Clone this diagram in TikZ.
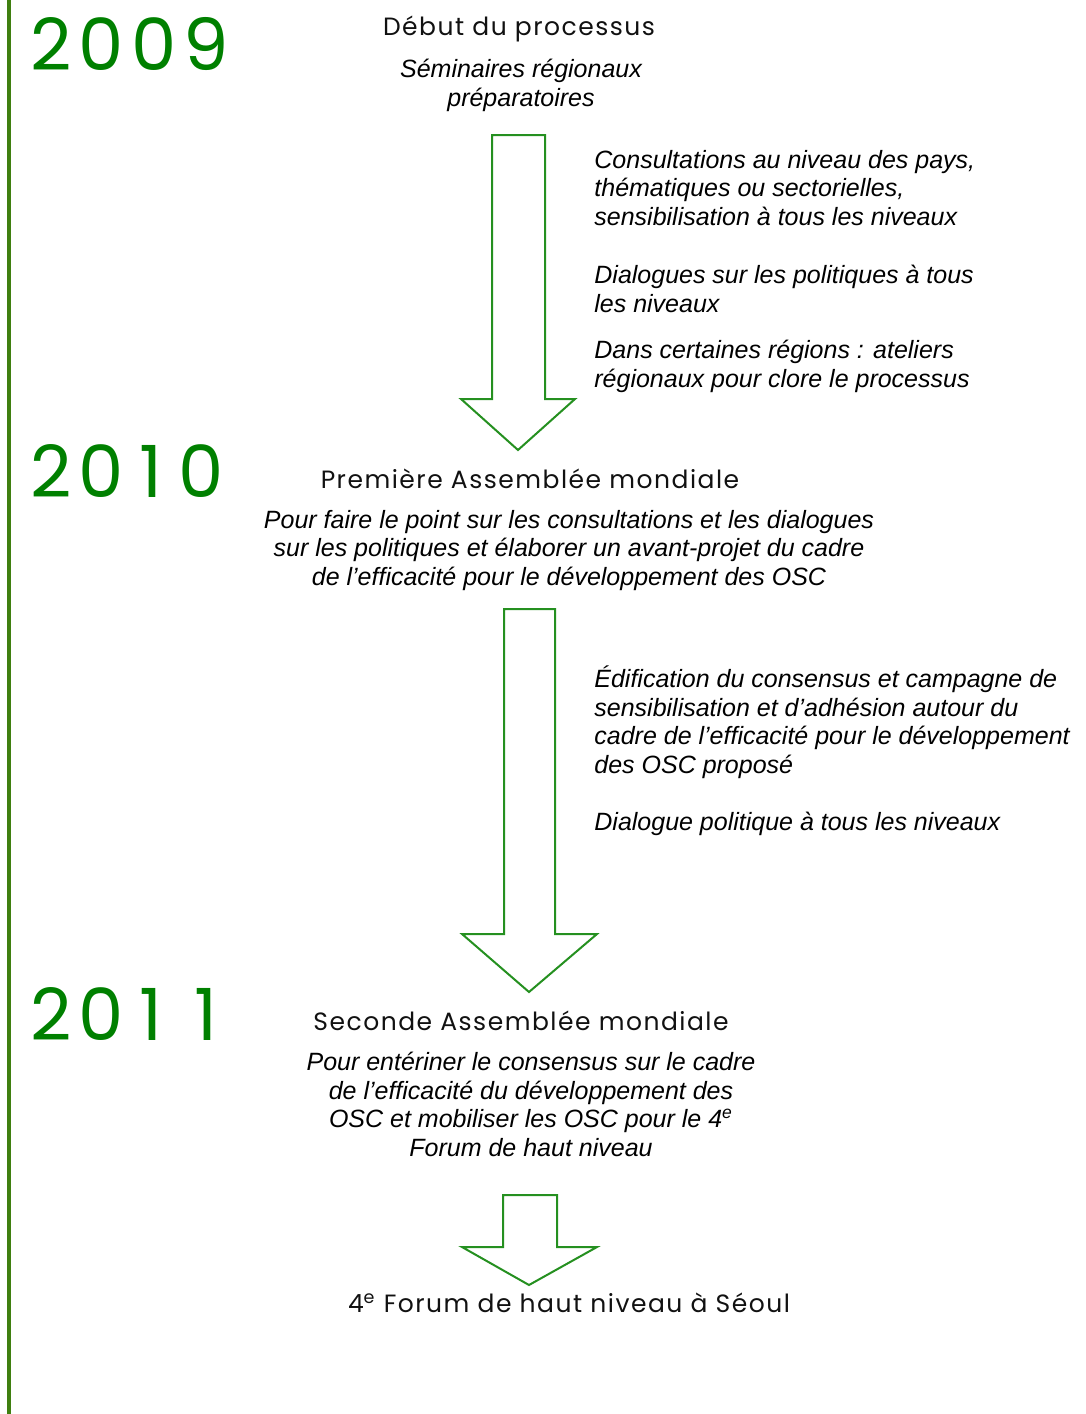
\documentclass[tikz,border=0pt]{standalone}
\usepackage{fontspec}
\setmainfont{Liberation Sans}
\newfontfamily\yearfont[LetterSpace=10]{Poppins}
\newfontfamily\headfont[LetterSpace=6]{Poppins}
\newcommand\tone{\makebox[0.76em]{1}}
\definecolor{yeargreen}{HTML}{008000}
\definecolor{arrowgreen}{HTML}{259020}
\definecolor{spinegreen}{HTML}{3F7F10}
\definecolor{headgrey}{HTML}{111111}

\begin{document}
\begin{tikzpicture}[x=0.5pt,y=-0.5pt]
        \tikzset{
            yr/.style={anchor=base west, inner sep=0, text=yeargreen,
            font=\yearfont\fontsize{36}{40}\selectfont},
            hd/.style={anchor=base, inner sep=0, text=headgrey,
            font=\headfont\fontsize{12.5}{14}\selectfont},
            ds/.style={anchor=base, inner sep=0, align=center,
            font=\itshape\fontsize{12.5}{14.25}\selectfont},
            sd/.style={anchor=base west, inner sep=0, align=left,
            font=\itshape\fontsize{12.5}{14.25}\selectfont},
            ar/.style={draw=arrowgreen, line width=1pt, line join=miter},
            spine/.style={draw=spinegreen, line width=2pt}
            }

            \useasboundingbox (0,0) rectangle (1086,1414);
            \draw[spine] (9,0) -- (9,1414);

            % years
            \node[yr] (y1) at (30,70) {2009};
            \node[yr] (y2) at (30,497) {20\tone0};
            \node[yr] (y3) at (30,1040) {20\tone\tone};

            % headings
            \node[hd] (h1) at (519,35) {Début du processus};
            \node[hd] (h2) at (530,488) {Première Assemblée mondiale};
            \node[hd] (h3) at (521,1030) {Seconde Assemblée mondiale};
            \node[hd] (h4) at (569,1312) {4\textsuperscript{e} Forum de haut niveau à Séoul};

            % base anchor = last line
            \node[ds] (d1) at (521,106) {Séminaires régionaux\\préparatoires};
            \node[ds] (d2) at (569,585) {Pour faire le point sur les consultations et les dialogues\\sur les politiques et élaborer un avant-projet du cadre\\de l’efficacité pour le développement des OSC};
            \node[ds] (d3) at (531,1156) {Pour entériner le consensus sur le cadre\\de l’efficacité du développement des\\OSC et mobiliser les OSC pour le 4\textsuperscript{e}\\Forum de haut niveau};

            \node[sd] (s1) at (594,225) {Consultations au niveau des pays,\\thématiques ou sectorielles,\\sensibilisation à tous les niveaux};
            \node[sd] (s2) at (594,312) {Dialogues sur les politiques à tous\\les niveaux};
            \node[sd] (s3) at (594,387) {Dans certaines régions : ateliers\\régionaux pour clore le processus};
            \node[sd] (s4) at (594,773) {Édification du consensus et campagne de\\sensibilisation et d’adhésion autour du\\cadre de l’efficacité pour le développement\\des OSC proposé};
            \node[sd] (s5) at (594,830) {Dialogue politique à tous les niveaux};

            \draw[ar] (492,135) -- (545,135) -- (545,399) -- (575,399) -- (518,450) -- (461,399) -- (492,399) -- cycle;
            \draw[ar] (504,609) -- (555,609) -- (555,934) -- (597,934) -- (529,992) -- (462,934) -- (504,934) -- cycle;
            \draw[ar] (503,1195) -- (557,1195) -- (557,1247) -- (597,1247) -- (529,1285) -- (462,1247) -- (503,1247) -- cycle;
        \end{tikzpicture}
\end{document}
